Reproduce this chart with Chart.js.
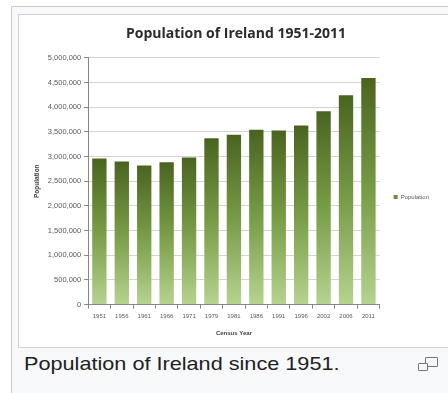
<!DOCTYPE html>
<html>
<head>
<meta charset="utf-8">
<script src="https://cdn.jsdelivr.net/npm/chart.js@4/dist/chart.umd.min.js"></script>
<style>
  html, body { margin: 0; padding: 0; background: #ffffff; width: 448px; height: 393px; overflow: hidden; }
  #frame { position: absolute; left: 11px; top: 6px; width: 460px; height: 400px; background: #f8f9fa; border-left: 1px solid #c8ccd1; border-top: 1px solid #c8ccd1; }
  #img { position: absolute; left: 18px; top: 14px; width: 440px; height: 334px; background: #ffffff; border: 1px solid #d2d2d2; box-sizing: border-box; }
  #wrap { position: absolute; left: 19px; top: 15px; width: 429px; height: 332px; }
  #caption { position: absolute; left: 24px; top: 353px; font-family: "Liberation Sans", Arial, sans-serif; font-size: 19px; color: #202122; white-space: nowrap; transform: scaleX(1.14); transform-origin: 0 0; }
  .mag1 { position: absolute; left: 425px; top: 357px; width: 11px; height: 8px; border: 1.5px solid #72777d; border-radius: 1px; background: #f8f9fa; }
  .mag2 { position: absolute; left: 418px; top: 363px; width: 8px; height: 6px; border: 1.5px solid #72777d; border-radius: 1px; background: #f8f9fa; }
</style>
</head>
<body>
<div id="frame"></div>
<div id="img"></div>
<div id="wrap"><canvas id="c" width="429" height="332"></canvas></div>
<div id="caption">Population of Ireland since 1951.</div>
<div class="mag1"></div>
<div class="mag2"></div>
<script>
const censusYears = ['1951','1956','1961','1966','1971','1979','1981','1986','1991','1996','2002','2006','2011'];
const populationValues = [2960593, 2898264, 2818341, 2884002, 2978248, 3368217, 3443405, 3540643, 3525719, 3626087, 3917203, 4239848, 4588252];
const seriesName = 'Population';
const chartTitle = 'Population of Ireland 1951-2011';
const yAxisTitle = 'Population';
const xAxisTitle = 'Census Year';

function barGradient(ctx) {
  const chart = ctx.chart;
  if (!chart.chartArea || ctx.type !== 'data') return '#6f8f3f';
  const y = chart.scales.y;
  const top = y.getPixelForValue(ctx.raw);
  const bottom = y.getPixelForValue(0);
  const g = chart.ctx.createLinearGradient(0, top, 0, bottom);
  g.addColorStop(0, '#4a6420');
  g.addColorStop(0.5, '#789c46');
  g.addColorStop(1, '#b6d390');
  return g;
}

const legendShift = {
  id: 'legendShift',
  afterLayout(chart) {
    const lg = chart.legend;
    if (lg) { lg.top += 19; lg.bottom += 19; }
  }
};

new Chart(document.getElementById('c'), {
  type: 'bar',
  data: {
    labels: censusYears,
    datasets: [{
      label: seriesName,
      data: populationValues,
      backgroundColor: barGradient,
      borderWidth: 0,
      categoryPercentage: 1,
      barPercentage: 0.64
    }]
  },
  options: {
    responsive: false,
    animation: false,
    devicePixelRatio: 1,
    layout: { padding: { top: 4, left: 14, right: 9, bottom: 10 } },
    plugins: {
      tooltip: { enabled: false },
      title: {
        display: true,
        text: chartTitle,
        color: '#2b2b2b',
        font: { family: '"Open Sans", "Liberation Sans", sans-serif', size: 14, weight: 'bold' },
        padding: { top: 7, bottom: 15 }
      },
      legend: {
        position: 'right',
        labels: {
          boxWidth: 4,
          boxHeight: 4,
          padding: 14,
          color: '#595959',
          font: { family: '"Liberation Sans", sans-serif', size: 6 },
          generateLabels: (chart) => {
            const items = Chart.defaults.plugins.legend.labels.generateLabels(chart);
            items.forEach(it => { it.fillStyle = '#6f8f3f'; it.strokeStyle = '#6f8f3f'; it.lineWidth = 0; });
            return items;
          }
        }
      }
    },
    scales: {
      y: {
        min: 0,
        max: 5000000,
        ticks: {
          stepSize: 500000,
          color: '#595959',
          padding: 3,
          font: { family: '"Liberation Sans", sans-serif', size: 7.5 },
          callback: (v) => v.toLocaleString('en-US')
        },
        grid: { color: '#d4d4d4', tickLength: 4, tickColor: '#868686' },
        border: { display: true, color: '#868686' },
        title: {
          display: true,
          text: yAxisTitle,
          color: '#404040',
          font: { family: '"Liberation Sans", sans-serif', size: 6.5, weight: 'bold' },
          padding: { top: 0, bottom: 4 }
        }
      },
      x: {
        ticks: {
          color: '#595959',
          padding: 4,
          maxRotation: 0,
          autoSkip: false,
          font: { family: '"Liberation Sans", sans-serif', size: 6 }
        },
        grid: { display: true, drawOnChartArea: false, offset: true, tickLength: 4, color: '#868686' },
        border: { display: true, color: '#868686' },
        title: {
          display: true,
          text: xAxisTitle,
          color: '#404040',
          font: { family: '"Liberation Sans", sans-serif', size: 6, weight: 'bold' },
          padding: { top: 6, bottom: 0 }
        }
      }
    }
  },
  plugins: [legendShift]
});
</script>
</body>
</html>
